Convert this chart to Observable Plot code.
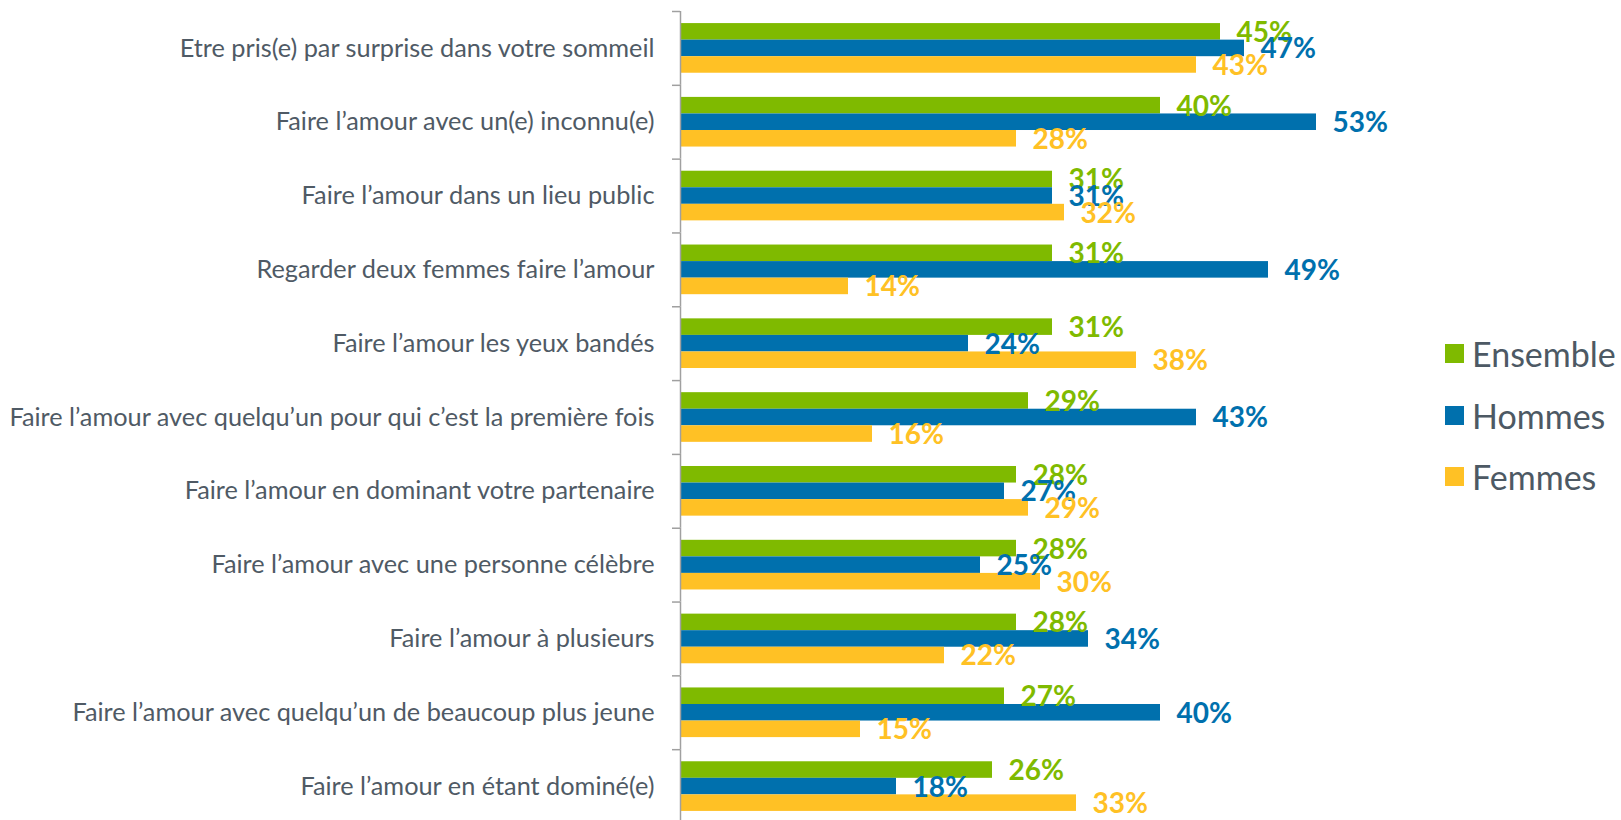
<!DOCTYPE html>
<html><head><meta charset="utf-8">
<script src="https://cdn.jsdelivr.net/npm/d3@7"></script>
<script src="https://cdn.jsdelivr.net/npm/@observablehq/plot@0.6"></script>
<style>
html,body{margin:0;padding:0;background:#fff;overflow:hidden;}
#wrap{position:relative;width:1621px;height:820px;}
#legend{position:absolute;left:1445px;top:323px;font-family:Lato,sans-serif;font-size:34px;color:#4d5964;}
.row{display:flex;align-items:center;height:61.5px;}
.sw{width:19px;height:19px;margin-right:8px;flex:none;}
</style></head><body><div id="wrap"><div id="legend"></div></div>
<script>
const categories = [
  "Etre pris(e) par surprise dans votre sommeil",
  "Faire l’amour avec un(e) inconnu(e)",
  "Faire l’amour dans un lieu public",
  "Regarder deux femmes faire l’amour",
  "Faire l’amour les yeux bandés",
  "Faire l’amour avec quelqu’un pour qui c’est la première fois",
  "Faire l’amour en dominant votre partenaire",
  "Faire l’amour avec une personne célèbre",
  "Faire l’amour à plusieurs",
  "Faire l’amour avec quelqu’un de beaucoup plus jeune",
  "Faire l’amour en étant dominé(e)"
];
const series = ["Ensemble", "Hommes", "Femmes"];
const ensemble = [45, 40, 31, 31, 31, 29, 28, 28, 28, 27, 26];
const hommes   = [47, 53, 31, 49, 24, 43, 27, 25, 34, 40, 18];
const femmes   = [43, 28, 32, 14, 38, 16, 29, 30, 22, 15, 33];
const colors = ["#7fba00", "#0070ad", "#ffc125"];

const values = [ensemble, hommes, femmes];
const data = [];
categories.forEach((c, i) => series.forEach((s, j) => data.push({category: c, series: s, value: values[j][i]})));

const H = 823, MT = 11, MB = 0;
const step = (H - MT - MB) / categories.length;
const textColor = "#4f5a65";
const axisColor = "#a0a0a0";

const chart = Plot.plot({
  width: 1621,
  height: H,
  marginTop: MT,
  marginBottom: MB,
  marginLeft: 680,
  marginRight: 221,
  style: {fontFamily: "Lato, sans-serif", background: "transparent"},
  x: {domain: [0, 60], axis: null},
  y: {domain: series, paddingInner: 0, paddingOuter: 0.73, round: false, axis: null},
  fy: {domain: categories, padding: 0, round: false, axis: null},
  color: {domain: series, range: colors},
  marks: [
    Plot.barX(data, {fy: "category", y: "series", x: "value", fill: "series"}),
    Plot.ruleX([0], {stroke: axisColor, strokeWidth: 1.5}),
    Plot.axisFy({anchor: "left", label: null, tickSize: 8, tickFormat: () => "", dy: -step / 2, stroke: axisColor, strokeWidth: 1.5}),
    Plot.axisFy({anchor: "left", label: null, tickSize: 0, tickPadding: 26, fontSize: 25.3, fill: textColor}),
    Plot.text(data, {fy: "category", y: "series", x: "value", text: d => d.value + "%", dx: 16, dy: 1, textAnchor: "start", fill: "series", fontSize: 28, fontWeight: 700})
  ]
});
const wrap = document.getElementById("wrap");
wrap.insertBefore(chart, wrap.firstChild);

const legend = document.getElementById("legend");
series.forEach((s, j) => {
  const row = document.createElement("div");
  row.className = "row";
  const sw = document.createElement("div");
  sw.className = "sw";
  sw.style.background = colors[j];
  const t = document.createElement("span");
  t.textContent = s;
  row.appendChild(sw); row.appendChild(t);
  legend.appendChild(row);
});
</script>
</body></html>
